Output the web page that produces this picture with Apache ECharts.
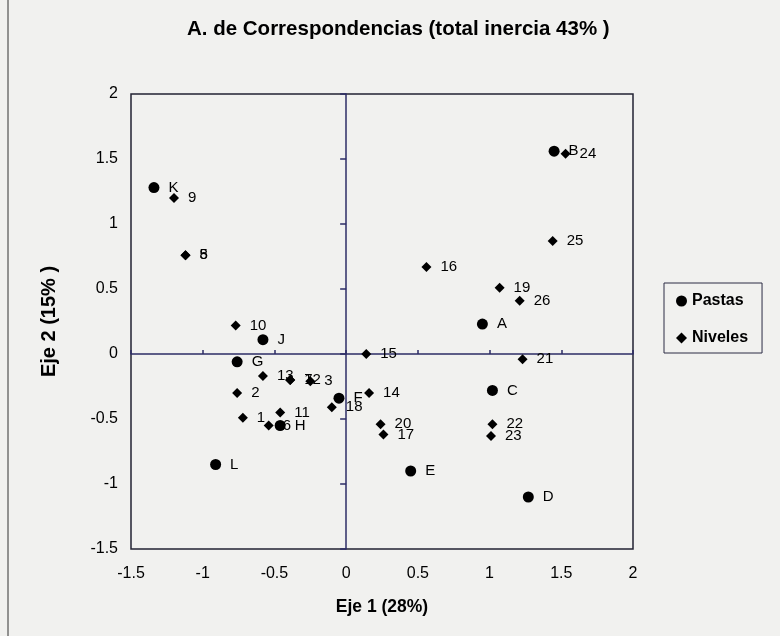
<!DOCTYPE html>
<html>
<head>
<meta charset="utf-8">
<script src="https://cdn.jsdelivr.net/npm/echarts@6/dist/echarts.min.js"></script>
<style>
  html, body { margin: 0; padding: 0; background: #f1f1ef; }
  #chart { width: 780px; height: 636px; }
</style>
</head>
<body>
<div id="chart"></div>
<script>
  // Pastas (circulos)
  var pastaNames = ['A', 'B', 'C', 'D', 'E', 'F', 'G', 'H', 'J', 'K', 'L']
  var pastaX = [0.95, 1.45, 1.02, 1.27, 0.45, -0.05, -0.76, -0.46, -0.58, -1.34, -0.91]
  var pastaY = [0.23, 1.56, -0.28, -1.10, -0.90, -0.34, -0.06, -0.55, 0.11, 1.28, -0.85]

  // Niveles (rombos)
  var nivelNames = ['1', '2', '3', '5', '6', '7', '8', '9', '10', '11', '12', '13', '14',
    '15', '16', '17', '18', '19', '20', '21', '22', '23', '24', '25', '26']
  var nivelX = [-0.72, -0.76, -0.25, -1.12, -0.54, -0.39, -1.12, -1.20, -0.77, -0.46, -0.39, -0.58, 0.16,
    0.14, 0.56, 0.26, -0.10, 1.07, 0.24, 1.23, 1.02, 1.01, 1.53, 1.44, 1.21]
  var nivelY = [-0.49, -0.30, -0.21, 0.76, -0.55, -0.20, 0.76, 1.20, 0.22, -0.45, -0.20, -0.17, -0.30,
    0.00, 0.67, -0.62, -0.41, 0.51, -0.54, -0.04, -0.54, -0.63, 1.54, 0.87, 0.41]

  var axisMin = -1.5
  var axisMax = 2
  var step = 0.5

  function points(names, xs, ys) {
    return names.map(function (n, i) {
      return { name: n, value: [xs[i], ys[i]] }
    })
  }

  var chart = echarts.init(document.getElementById('chart'))
  var font = 'Arial, Liberation Sans'
  var zeroLine = { color: '#2c2c66', width: 1.5 }
  var labelText = { fontFamily: font, fontSize: 15, color: '#000' }

  var options = {
    backgroundColor: '#f1f1ef',
    title: {
      text: 'A. de Correspondencias (total inercia 43% )',
      left: 187,
      top: 19,
      padding: 0,
      textStyle: { fontFamily: font, fontSize: 20.5, fontWeight: 'bold', color: '#000' }
    },
    legend: {
      orient: 'vertical',
      left: 664,
      top: 283,
      padding: [10, 14, 7, 12],
      itemGap: 21,
      itemWidth: 11,
      itemHeight: 11,
      borderColor: '#2c2c44',
      borderWidth: 1,
      borderRadius: 0,
      textStyle: { fontFamily: font, fontSize: 16, fontWeight: 'bold', color: '#000' },
      data: ['Pastas', 'Niveles']
    },
    grid: {
      left: 131,
      right: 147,
      top: 94,
      bottom: 87,
      show: true,
      borderColor: '#222233',
      borderWidth: 1.5
    },
    xAxis: [{
      type: 'value',
      min: axisMin,
      max: axisMax,
      interval: step,
      position: 'bottom',
      axisLine: { show: false, onZero: false },
      axisTick: { show: false },
      splitLine: { show: false },
      axisLabel: { margin: 17, fontFamily: font, fontSize: 16, color: '#000' },
      name: 'Eje 1 (28%)',
      nameLocation: 'middle',
      nameGap: 49,
      nameTextStyle: { fontFamily: font, fontSize: 17.5, fontWeight: 'bold', color: '#000' }
    }, {
      type: 'value',
      min: axisMin,
      max: axisMax,
      interval: step,
      position: 'top',
      axisLine: { show: true, onZero: true, onZeroAxisIndex: 1, lineStyle: zeroLine },
      axisTick: { show: true, inside: false, length: 4, lineStyle: zeroLine },
      splitLine: { show: false },
      axisLabel: { show: false }
    }],
    yAxis: [{
      type: 'value',
      min: axisMin,
      max: axisMax,
      interval: step,
      position: 'left',
      axisLine: { show: false, onZero: false },
      axisTick: { show: false },
      splitLine: { show: false },
      axisLabel: { margin: 13, fontFamily: font, fontSize: 16, color: '#000' },
      name: 'Eje 2 (15% )',
      nameLocation: 'middle',
      nameGap: 72,
      nameTextStyle: { fontFamily: font, fontSize: 20, fontWeight: 'bold', color: '#000' }
    }, {
      type: 'value',
      min: axisMin,
      max: axisMax,
      interval: step,
      position: 'right',
      axisLine: { show: true, onZero: true, onZeroAxisIndex: 1, lineStyle: zeroLine },
      axisTick: { show: true, inside: true, length: 6, lineStyle: zeroLine },
      splitLine: { show: false },
      axisLabel: { show: false }
    }],
    series: [{
      name: 'Pastas',
      type: 'scatter',
      symbol: 'circle',
      symbolSize: 11,
      itemStyle: { color: '#000', opacity: 1 },
      label: { show: true, position: 'right', distance: 9, formatter: '{b}', ...labelText },
      data: points(pastaNames, pastaX, pastaY)
    }, {
      name: 'Niveles',
      type: 'scatter',
      symbol: 'diamond',
      symbolSize: 10,
      itemStyle: { color: '#000', opacity: 1 },
      label: { show: true, position: 'right', distance: 9, formatter: '{b}', ...labelText },
      data: points(nivelNames, nivelX, nivelY)
    }],
    graphic: [{
      type: 'line',
      shape: { x1: 8, y1: 0, x2: 8, y2: 636 },
      style: { stroke: '#333', lineWidth: 1 }
    }]
  }

  chart.setOption(options, true)
  window.addEventListener('resize', function () {
    chart.resize()
  })
</script>
</body>
</html>
